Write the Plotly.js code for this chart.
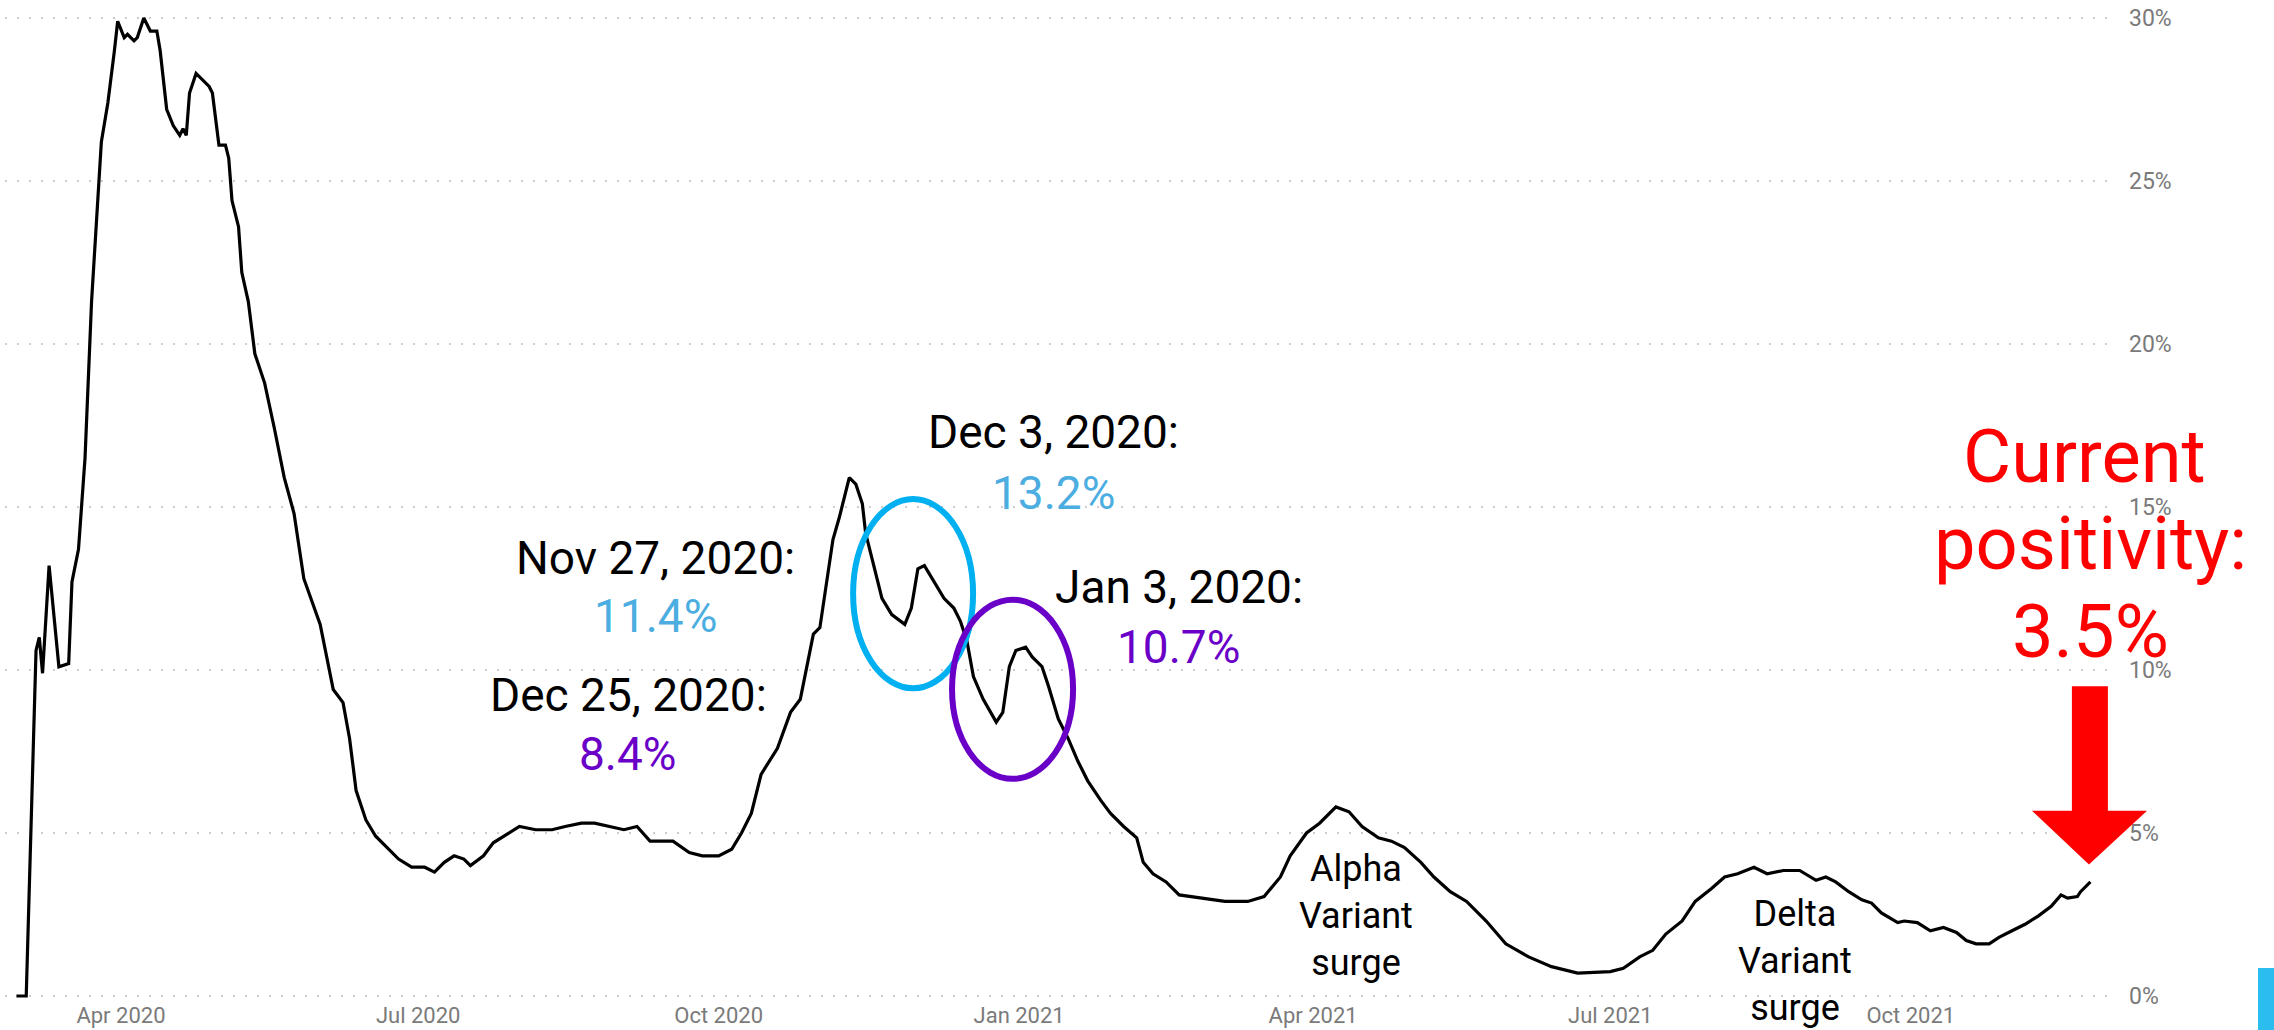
<!DOCTYPE html>
<html>
<head>
<meta charset="utf-8">
<script src="https://cdn.plot.ly/plotly-3.0.1.min.js"></script>
<style>
  html, body { margin: 0; padding: 0; background: #ffffff; }
  #chart { width: 2274px; height: 1030px; }
</style>
</head>
<body>
<div id="chart"></div>
<script>
// Test positivity (7-day average, %) by date
const dates = [
  '2020-02-29','2020-03-03','2020-03-06','2020-03-07','2020-03-08','2020-03-10','2020-03-13','2020-03-16',
  '2020-03-17','2020-03-19','2020-03-21','2020-03-23','2020-03-26','2020-03-28','2020-03-30','2020-03-31',
  '2020-04-02','2020-04-03','2020-04-05','2020-04-06','2020-04-08','2020-04-10','2020-04-12','2020-04-13',
  '2020-04-15','2020-04-17','2020-04-19','2020-04-20','2020-04-21','2020-04-22','2020-04-24','2020-04-26',
  '2020-04-28','2020-04-29','2020-05-01','2020-05-03','2020-05-04','2020-05-05','2020-05-07','2020-05-08',
  '2020-05-10','2020-05-12','2020-05-15','2020-05-18','2020-05-21','2020-05-24','2020-05-27','2020-06-01',
  '2020-06-05','2020-06-08','2020-06-10','2020-06-12','2020-06-15','2020-06-18','2020-06-22','2020-06-25',
  '2020-06-29','2020-07-03','2020-07-06','2020-07-09','2020-07-12','2020-07-15','2020-07-17','2020-07-21',
  '2020-07-24','2020-07-29','2020-08-01','2020-08-06','2020-08-11','2020-08-15','2020-08-20','2020-08-24',
  '2020-08-29','2020-09-02','2020-09-06','2020-09-10','2020-09-13','2020-09-17','2020-09-22','2020-09-26',
  '2020-10-01','2020-10-05','2020-10-08','2020-10-11','2020-10-14','2020-10-19','2020-10-23','2020-10-26',
  '2020-10-30','2020-11-01','2020-11-05','2020-11-07','2020-11-10','2020-11-12','2020-11-14','2020-11-15',
  '2020-11-17','2020-11-20','2020-11-23','2020-11-27','2020-11-29','2020-12-01','2020-12-03','2020-12-06',
  '2020-12-09','2020-12-12','2020-12-14','2020-12-16','2020-12-18','2020-12-21','2020-12-25','2020-12-27',
  '2020-12-29','2020-12-31','2021-01-03','2021-01-05','2021-01-08','2021-01-10','2021-01-13','2021-01-16',
  '2021-01-19','2021-01-22','2021-01-26','2021-01-29','2021-02-02','2021-02-06','2021-02-08','2021-02-11',
  '2021-02-15','2021-02-19','2021-02-26','2021-03-05','2021-03-12','2021-03-17','2021-03-22','2021-03-25',
  '2021-03-30','2021-04-03','2021-04-08','2021-04-12','2021-04-16','2021-04-21','2021-04-25','2021-04-29',
  '2021-05-04','2021-05-08','2021-05-13','2021-05-18','2021-05-24','2021-05-30','2021-06-06','2021-06-13',
  '2021-06-21','2021-07-01','2021-07-05','2021-07-10','2021-07-14','2021-07-18','2021-07-23','2021-07-27',
  '2021-08-01','2021-08-05','2021-08-09','2021-08-14','2021-08-18','2021-08-23','2021-08-28','2021-09-02',
  '2021-09-05','2021-09-08','2021-09-12','2021-09-16','2021-09-19','2021-09-22','2021-09-27','2021-09-29',
  '2021-10-03','2021-10-07','2021-10-11','2021-10-15','2021-10-18','2021-10-21','2021-10-25','2021-10-28',
  '2021-11-01','2021-11-05','2021-11-09','2021-11-13','2021-11-16','2021-11-18','2021-11-21','2021-11-22',
  '2021-11-25'
];
const positivity = [
  0, 0, 10.6, 11.0, 9.9, 13.2, 10.1, 10.2,
  12.7, 13.7, 16.5, 21.3, 26.2, 27.4, 29.0, 29.9,
  29.4, 29.5, 29.3, 29.4, 30.0, 29.6, 29.6, 29.0,
  27.2, 26.7, 26.4, 26.6, 26.4, 27.7, 28.3, 28.1,
  27.9, 27.7, 26.1, 26.1, 25.7, 24.4, 23.6, 22.2,
  21.3, 19.7, 18.8, 17.4, 15.9, 14.8, 12.8, 11.4,
  9.4, 9.0, 7.9, 6.3, 5.4, 4.9, 4.5, 4.2,
  3.95, 3.95, 3.8, 4.1, 4.3, 4.2, 4.0, 4.3,
  4.7, 5.0, 5.2, 5.1, 5.1, 5.2, 5.3, 5.3,
  5.2, 5.1, 5.2, 4.75, 4.75, 4.75, 4.4, 4.3,
  4.3, 4.5, 5.0, 5.6, 6.8, 7.6, 8.7, 9.1,
  11.1, 11.3, 14.0, 14.7, 15.9, 15.7, 15.1, 14.2,
  13.4, 12.2, 11.7, 11.4, 11.9, 13.1, 13.2, 12.7,
  12.2, 11.9, 11.5, 10.9, 9.8, 9.1, 8.4, 8.7,
  10.1, 10.6, 10.7, 10.4, 10.1, 9.5, 8.5, 7.9,
  7.2, 6.6, 6.0, 5.6, 5.2, 4.85, 4.1, 3.75,
  3.5, 3.1, 3.0, 2.9, 2.9, 3.05, 3.65, 4.3,
  5.0, 5.3, 5.8, 5.65, 5.2, 4.85, 4.75, 4.55,
  4.1, 3.65, 3.2, 2.9, 2.3, 1.6, 1.2, 0.9,
  0.7, 0.75, 0.85, 1.2, 1.4, 1.9, 2.3, 2.9,
  3.3, 3.65, 3.75, 3.95, 3.75, 3.85, 3.85, 3.55,
  3.65, 3.5, 3.2, 2.95, 2.85, 2.55, 2.25, 2.3,
  2.25, 2.0, 2.1, 1.95, 1.7, 1.6, 1.6, 1.8,
  2.0, 2.2, 2.45, 2.75, 3.1, 3.0, 3.05, 3.2,
  3.5
];

// Y axis ticks
const yTicks = [0, 5, 10, 15, 20, 25, 30];

// Callouts for the winter wave
const calloutTitles = ['Nov 27, 2020:', 'Dec 3, 2020:', 'Dec 25, 2020:', 'Jan 3, 2020:'];
const calloutDates  = ['2020-11-27', '2020-12-03', '2020-12-25', '2021-01-03'];

// Variant wave labels
const waveLabels = ['Alpha<br>Variant<br>surge', 'Delta<br>Variant<br>surge'];

const BLUE_TEXT = '#4BADE0';
const PURPLE = '#6A00C8';
const BLUE_RING = '#00B0F0';
const RED = '#FF0000';

function valueOn(d) {
  return positivity[dates.indexOf(d)];
}
function pct(v) { return v.toFixed(1) + '%'; }

const trace = {
  type: 'scatter',
  mode: 'lines',
  x: dates,
  y: positivity,
  line: { color: '#000000', width: 3.2 },
  hoverinfo: 'x+y'
};

// Callout placement (paper coordinates): title line and value line
const calloutPos = [
  { x: 0.3088, yt: 0.4467, yv: 0.3883, color: BLUE_TEXT },
  { x: 0.4979, yt: 0.5735, yv: 0.5121, color: BLUE_TEXT },
  { x: 0.2960, yt: 0.3079, yv: 0.2485, color: PURPLE },
  { x: 0.5577, yt: 0.4175, yv: 0.3561, color: PURPLE }
];

const annotations = [];
calloutTitles.forEach((t, i) => {
  const p = calloutPos[i];
  annotations.push({
    xref: 'paper', yref: 'paper', x: p.x, y: p.yt, xanchor: 'center', yanchor: 'middle',
    text: t, showarrow: false, font: { family: 'Roboto', size: 46, color: '#000000' }
  });
  annotations.push({
    xref: 'paper', yref: 'paper', x: p.x, y: p.yv, xanchor: 'center', yanchor: 'middle',
    text: pct(valueOn(calloutDates[i])), showarrow: false,
    font: { family: 'Roboto', size: 46, color: p.color }
  });
});

annotations.push({
  xref: 'paper', yref: 'paper', x: 0.6418, y: 0.0845, xanchor: 'center', yanchor: 'middle',
  text: waveLabels[0], showarrow: false, align: 'center',
  font: { family: 'Roboto', size: 36, color: '#000000' }
});
annotations.push({
  xref: 'paper', yref: 'paper', x: 0.8504, y: 0.0393, xanchor: 'center', yanchor: 'middle',
  text: waveLabels[1], showarrow: false, align: 'center',
  font: { family: 'Roboto', size: 36, color: '#000000' }
});

// Current positivity call-out
const latest = positivity[positivity.length - 1];
const redLines = [
  { text: 'Current', x: 0.9881, y: 0.5493 },
  { text: 'positivity:', x: 0.9905, y: 0.4608 },
  { text: pct(latest), x: 0.9905, y: 0.3722 }
];
redLines.forEach(l => annotations.push({
  xref: 'paper', yref: 'paper', x: l.x, y: l.y, xanchor: 'center', yanchor: 'middle',
  text: l.text, showarrow: false, font: { family: 'Roboto', size: 74, color: RED }
}));

const shapes = [
  // ring around the late-November dip
  { type: 'circle', xref: 'paper', yref: 'paper', x0: 0.4029, x1: 0.4599, y0: 0.3149, y1: 0.5060,
    line: { color: BLUE_RING, width: 6 }, fillcolor: 'rgba(0,0,0,0)' },
  // ring around the Christmas dip
  { type: 'circle', xref: 'paper', yref: 'paper', x0: 0.4499, x1: 0.5074, y0: 0.2234, y1: 0.4044,
    line: { color: PURPLE, width: 6 }, fillcolor: 'rgba(0,0,0,0)' },
  // red down arrow pointing at the latest value
  { type: 'path', xref: 'paper', yref: 'paper',
    path: 'M0.9819,0.3169 L0.9990,0.3169 L0.9990,0.1912 L1.0176,0.1912 L0.9900,0.1368 L0.9629,0.1912 L0.9819,0.1912 Z',
    fillcolor: RED, line: { width: 0 } },
  // slide accent block
  { type: 'rect', xref: 'paper', yref: 'paper', x0: 1.0703, x1: 1.0800, y0: -0.035, y1: 0.0322,
    fillcolor: '#2BBDEE', line: { width: 0 } }
];

const layout = {
  width: 2274,
  height: 1030,
  margin: { l: 5, r: 164, t: 10, b: 30 },
  paper_bgcolor: '#ffffff',
  plot_bgcolor: '#ffffff',
  showlegend: false,
  font: { family: 'Roboto, Arial, sans-serif' },
  xaxis: {
    type: 'date',
    range: ['2020-02-25 12:00', '2021-12-01'],
    tick0: '2020-01-01',
    dtick: 'M3',
    tickformat: '%b %Y',
    showgrid: false,
    zeroline: false,
    showline: false,
    ticks: '',
    tickfont: { family: 'Roboto', size: 22, color: '#7a7a7a' }
  },
  yaxis: {
    side: 'right',
    range: [-0.123, 30.245],
    tickvals: yTicks,
    ticktext: yTicks.map(v => v + '%'),
    showgrid: true,
    gridcolor: '#cccccc',
    gridwidth: 2,
    griddash: '2px,10px',
    zeroline: false,
    showline: false,
    ticks: '',
    ticklabelstandoff: 18,
    tickfont: { family: 'Roboto', size: 23, color: '#7a7a7a' }
  },
  annotations: annotations,
  shapes: shapes
};

Plotly.newPlot('chart', [trace], layout, { staticPlot: true, displayModeBar: false });
</script>
</body>
</html>
